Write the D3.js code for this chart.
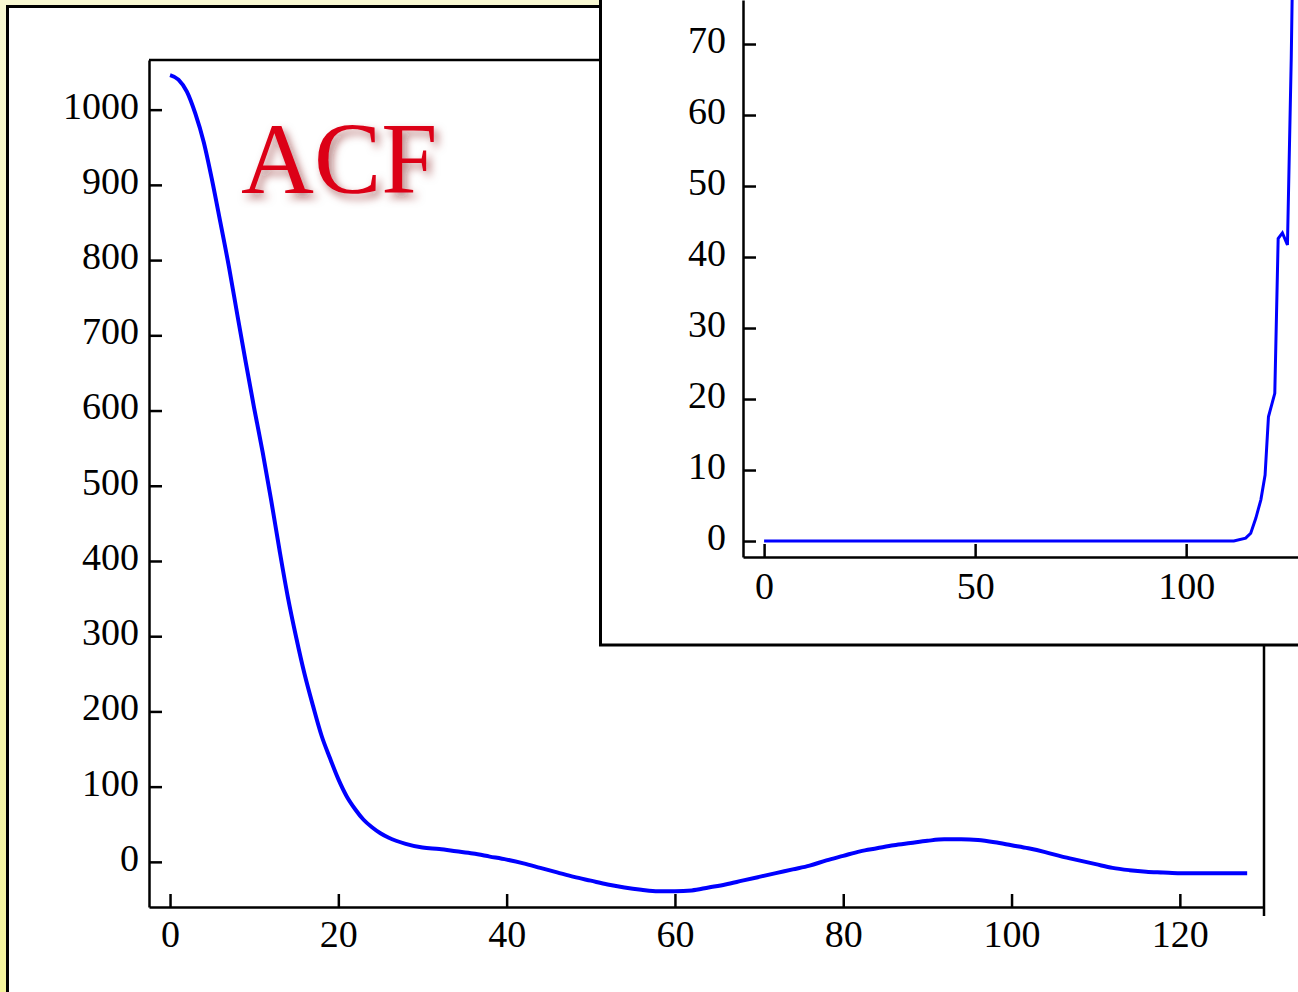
<!DOCTYPE html>
<html>
<head>
<meta charset="utf-8">
<script src="https://cdn.jsdelivr.net/npm/d3@7"></script>
<style>
  body { margin: 0; background: #fff; overflow: hidden; }
  text { font-family: "Liberation Serif", "Times New Roman", serif; }
</style>
</head>
<body>
<div class="canvas"></div>
<script>
// main ACF curve
const acfLag = [0, 1, 2, 3, 4, 5, 6, 7, 8, 9, 10, 11, 12, 13, 14, 15, 16, 17, 18, 19,
  20, 21, 22, 23, 24, 25, 26, 28, 30, 32, 34, 36, 38, 40, 42, 44, 46, 48, 50, 52,
  54, 56, 58, 60, 62, 64, 66, 68, 70, 72, 74, 76, 78, 80, 82, 84, 86, 88, 90, 92,
  94, 96, 98, 100, 102, 104, 106, 108, 110, 112, 114, 116, 118, 120, 122, 124, 126, 128];
const acfValue = [1046, 1040, 1024, 995, 957, 906, 849, 791, 727, 664, 603, 545, 482, 415, 352, 298, 249, 207, 168, 138,
  110, 87, 70, 56, 46, 38, 32, 24, 19, 17, 14, 11, 7, 3, -2, -8, -14, -20, -25, -30,
  -34, -37, -39, -39, -38, -34, -30, -25, -20, -15, -10, -5, 2, 8, 14, 18, 22, 25, 28, 30,
  30, 29, 26, 22, 18, 13, 7, 2, -3, -8, -11, -13, -14, -15, -15, -15, -15, -15];
const acfXTicks = [0, 20, 40, 60, 80, 100, 120];
const acfYTicks = [0, 100, 200, 300, 400, 500, 600, 700, 800, 900, 1000];

// inset curve
const insetLag = [0, 111.3, 114.1, 115.3, 116.5, 117.7, 118.7, 119.5, 121.0, 121.8, 122.8, 124.0, 124.9, 125.1, 126];
const insetValue = [0, 0, 0.4, 1.1, 3.2, 5.8, 9.3, 17.5, 20.8, 42.6, 43.4, 41.7, 68, 76, 100];
const insetXTicks = [0, 50, 100];
const insetYTicks = [0, 10, 20, 30, 40, 50, 60, 70];

const width = 1298;
const height = 992;

const svg = d3
  .select(".canvas")
  .append("svg")
  .attr("width", width)
  .attr("height", height);

const defs = svg.append("defs");

const grad = defs
  .append("linearGradient")
  .attr("id", "bg")
  .attr("x1", 0).attr("y1", 0)
  .attr("x2", 0).attr("y2", 1);
grad.append("stop").attr("offset", "0%").attr("stop-color", "#f8f8d2");
grad.append("stop").attr("offset", "100%").attr("stop-color", "#f4f49c");

const shadow = defs.append("filter").attr("id", "shadow")
  .attr("x", "-20%").attr("y", "-20%").attr("width", "140%").attr("height", "140%");
shadow.append("feDropShadow")
  .attr("dx", 4).attr("dy", 5)
  .attr("stdDeviation", 4)
  .attr("flood-color", "#7a1010")
  .attr("flood-opacity", 0.55);

// background and outer panel
svg.append("rect").attr("width", width).attr("height", height).attr("fill", "url(#bg)");
svg.append("rect")
  .attr("x", 7.5).attr("y", 6.5)
  .attr("width", 1400).attr("height", 1100)
  .attr("fill", "#fff")
  .attr("stroke", "#000")
  .attr("stroke-width", 3);

// ---------- main chart ----------
const x = d3.scaleLinear().domain([-2.5, 130]).range([149, 1264]);
const y = d3.scaleLinear().domain([-60, 1066]).range([907, 60]);

const frame = svg.append("g");
frame.append("line")
  .attr("x1", x.range()[0]).attr("x2", x.range()[1])
  .attr("y1", y.range()[1]).attr("y2", y.range()[1])
  .attr("stroke", "#000").attr("stroke-width", 2.5);
frame.append("line")
  .attr("x1", x.range()[1]).attr("x2", x.range()[1])
  .attr("y1", y.range()[1]).attr("y2", y.range()[0] + 9)
  .attr("stroke", "#000").attr("stroke-width", 2.5);

const xAxisGroup = svg.append("g")
  .attr("class", "x-axis")
  .attr("transform", `translate(0, ${y.range()[0]})`);
const yAxisGroup = svg.append("g")
  .attr("class", "y-axis")
  .attr("transform", `translate(${x.range()[0]}, 0)`);

xAxisGroup.call(d3.axisBottom(x).tickValues(acfXTicks).tickFormat(d3.format("d"))
  .tickSizeInner(-13).tickSizeOuter(0).tickPadding(13));
yAxisGroup.call(d3.axisLeft(y).tickValues(acfYTicks).tickFormat(d3.format("d"))
  .tickSizeInner(-13).tickSizeOuter(0).tickPadding(10));

const line = d3.line()
  .x((d, i) => x(acfLag[i]))
  .y((d) => y(d))
  .curve(d3.curveMonotoneX);

svg.append("path")
  .datum(acfValue)
  .attr("fill", "none")
  .attr("stroke", "#0000ff")
  .attr("stroke-width", 4)
  .attr("stroke-linejoin", "round")
  .attr("d", line);

svg.append("text")
  .attr("x", 241)
  .attr("y", 193)
  .attr("font-size", 101)
  .attr("fill", "#dc0018")
  .attr("filter", "url(#shadow)")
  .text("ACF");

// ---------- inset ----------
svg.append("rect")
  .attr("x", 600.5).attr("y", -10)
  .attr("width", 800).attr("height", 655)
  .attr("fill", "#fff")
  .attr("stroke", "#000")
  .attr("stroke-width", 3);

const ix = d3.scaleLinear().domain([-5, 126.5]).range([743, 1298]);
const iy = d3.scaleLinear().domain([-2.25, 76.2]).range([557, 0]);

const ixAxisGroup = svg.append("g")
  .attr("class", "x-axis")
  .attr("transform", `translate(0, ${iy.range()[0]})`);
const iyAxisGroup = svg.append("g")
  .attr("class", "y-axis")
  .attr("transform", `translate(${ix.range()[0]}, 0)`);

ixAxisGroup.call(d3.axisBottom(ix).tickValues(insetXTicks).tickSizeInner(-13).tickSizeOuter(0).tickPadding(15));
iyAxisGroup.call(d3.axisLeft(iy).tickValues(insetYTicks).tickSizeInner(-13).tickSizeOuter(0).tickPadding(17));

const insetLine = d3.line()
  .x((d, i) => ix(insetLag[i]))
  .y((d) => iy(d));

svg.append("path")
  .datum(insetValue)
  .attr("fill", "none")
  .attr("stroke", "#0000ff")
  .attr("stroke-width", 3)
  .attr("d", insetLine);

// axis styling
svg.selectAll(".x-axis path, .y-axis path").attr("stroke-width", 2.5);
svg.selectAll(".x-axis line, .y-axis line").attr("stroke-width", 2.5);
svg.selectAll(".x-axis text, .y-axis text")
  .attr("font-size", 38)
  .attr("font-family", "Liberation Serif, serif")
  .attr("fill", "#000");
svg.selectAll(".y-axis text").attr("dy", "0.22em");
</script>
</body>
</html>
